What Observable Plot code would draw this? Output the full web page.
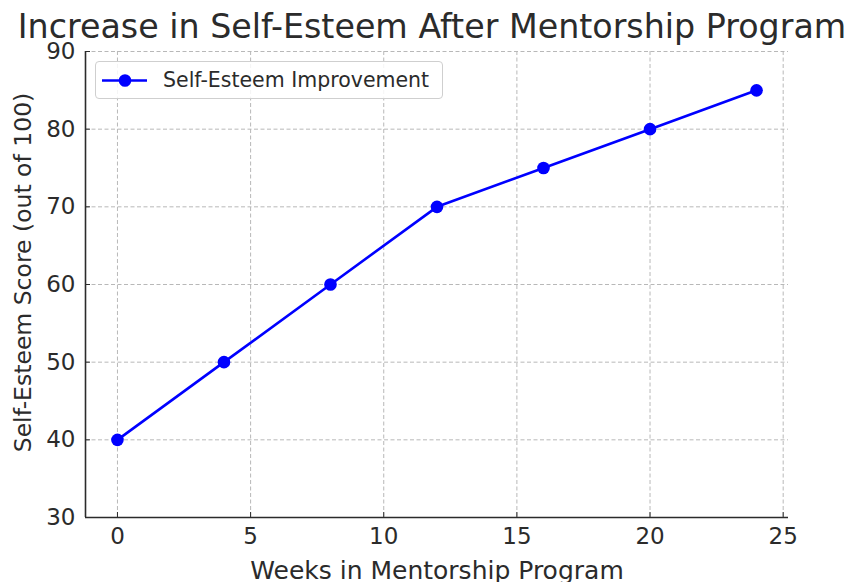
<!DOCTYPE html>
<html><head><meta charset="utf-8">
<script src="https://cdn.jsdelivr.net/npm/d3@7"></script>
<script src="https://cdn.jsdelivr.net/npm/@observablehq/plot@0.6"></script>
<style>
body{margin:0;background:#fff;}
#wrap{position:relative;width:858px;height:582px;font-family:"DejaVu Sans",sans-serif;color:#2b2b2b;overflow:hidden;}
#legend{position:absolute;left:95px;top:61px;width:346px;height:36px;border:1px solid #cfcfcf;border-radius:4px;background:rgba(255,255,255,0.85);}
#legend svg{position:absolute;left:0;top:0;}
#legend span{position:absolute;left:67px;top:6px;font-size:20.5px;line-height:24px;color:#2b2b2b;white-space:nowrap;}
</style></head><body><div id="wrap"></div>
<script>
const weeks = [0, 4, 8, 12, 16, 20, 24];
const scores = [40, 50, 60, 70, 75, 80, 85];
const xTicks = [0, 5, 10, 15, 20, 25];
const yTicks = [30, 40, 50, 60, 70, 80, 90];
const xDomain = [-1.2, 25.2];
const yDomain = [30, 90];
const title = "Increase in Self-Esteem After Mentorship Program";
const xLabel = "Weeks in Mentorship Program";
const yLabel = "Self-Esteem Score (out of 100)";
const seriesName = "Self-Esteem Improvement";
const lineColor = "#0000ff";
const textColor = "#2b2b2b";

const data = weeks.map((w, i) => ({week: w, score: scores[i]}));
const gridStyle = {stroke: "#b8b8b8", strokeOpacity: 1, strokeDasharray: "4,2.5", strokeWidth: 1};
const spine = {stroke: "#2b2b2b", strokeWidth: 1.6};

const chart = Plot.plot({
  width: 858, height: 582,
  marginLeft: 85, marginRight: 70, marginTop: 51, marginBottom: 65,
  style: {fontFamily: "DejaVu Sans", color: textColor, background: "white", overflow: "visible"},
  x: {domain: xDomain},
  y: {domain: yDomain},
  marks: [
    Plot.gridX(xTicks, gridStyle),
    Plot.gridY(yTicks, gridStyle),
    Plot.ruleX([xDomain[0]], spine),
    Plot.ruleY([yDomain[0]], spine),
    Plot.axisX(xTicks, {tickSize: -5, tickPadding: 15, fontSize: 23, label: null, stroke: textColor}),
    Plot.axisY(yTicks, {tickSize: -5, tickPadding: 15, fontSize: 23, label: null, stroke: textColor}),
    Plot.line(data, {x: "week", y: "score", stroke: lineColor, strokeWidth: 2.6}),
    Plot.dot(data, {x: "week", y: "score", r: 6.3, fill: lineColor}),
    Plot.text([title], {frameAnchor: "top", dx: -5, dy: -37, fontSize: 33.3, fill: textColor}),
    Plot.text([xLabel], {frameAnchor: "bottom", dy: 61, fontSize: 25, fill: textColor}),
    Plot.text([yLabel], {frameAnchor: "left", textAnchor: "middle", rotate: -90, dx: -62, dy: -12, fontSize: 23.5, fill: textColor})
  ]
});
const wrap = document.getElementById("wrap");
wrap.appendChild(chart);
const legend = document.createElement("div");
legend.id = "legend";
legend.innerHTML = `<svg width="60" height="36"><line x1="6" y1="18.5" x2="51" y2="18.5" stroke="${lineColor}" stroke-width="2.6"/><circle cx="29" cy="18.5" r="6.3" fill="${lineColor}"/></svg><span></span>`;
legend.querySelector("span").textContent = seriesName;
wrap.appendChild(legend);
</script></body></html>
